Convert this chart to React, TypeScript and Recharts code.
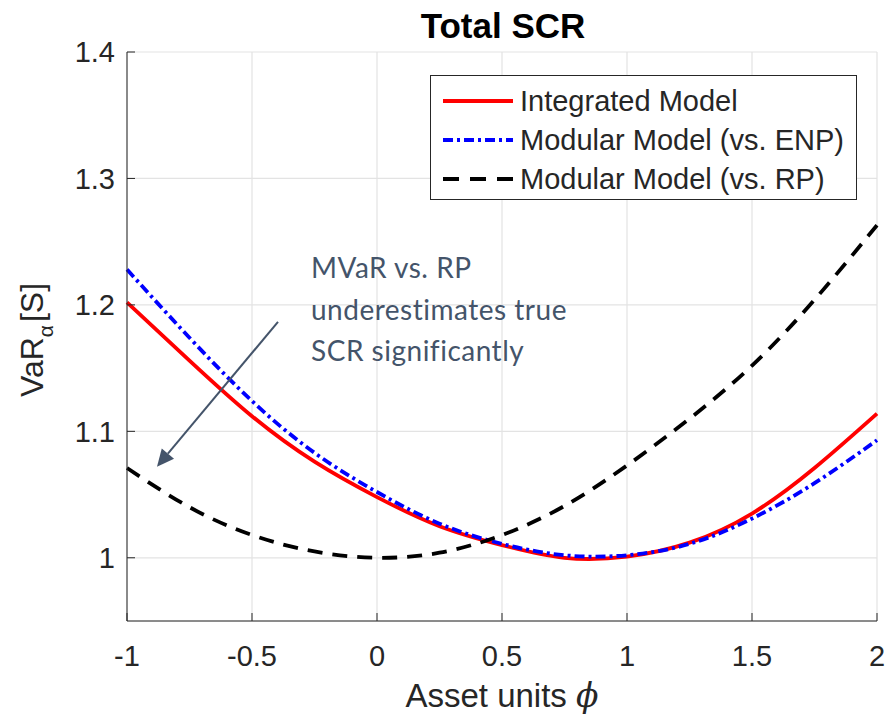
import React from "react";
import {
  LineChart,
  Line,
  XAxis,
  YAxis,
  CartesianGrid,
  ReferenceLine,
} from "recharts";

// asset units on the x axis
const phi = [-1, -0.75, -0.5, -0.25, 0, 0.25, 0.5, 0.75, 1, 1.25, 1.5, 1.75, 2];

// VaR of the total SCR for each model
const integrated = [1.202, 1.156, 1.112, 1.076, 1.048, 1.025, 1.01, 1.0, 1.001, 1.012, 1.035, 1.071, 1.114];
const modularEnp = [1.228, 1.174, 1.124, 1.083, 1.052, 1.027, 1.011, 1.002, 1.002, 1.011, 1.031, 1.059, 1.093];
const modularRp = [1.071, 1.04, 1.018, 1.005, 1.0, 1.004, 1.018, 1.041, 1.073, 1.11, 1.152, 1.204, 1.263];

const xTicks = [-1, -0.5, 0, 0.5, 1, 1.5, 2];
const yTicks = [1, 1.1, 1.2, 1.3, 1.4];

// annotation arrow, in data units (tail -> head)
const arrowTail = { x: -0.396, y: 1.1866 };
const arrowHead = { x: -0.88, y: 1.072 };
const noteLines = ["MVaR vs. RP", "underestimates true", "SCR significantly"];

const SERIES = [
  { key: "integrated", name: "Integrated Model", color: "#ff0000", dash: undefined as string | undefined },
  { key: "enp", name: "Modular Model (vs. ENP)", color: "#0000ff", dash: "10 4 3 4" },
  { key: "rp", name: "Modular Model (vs. RP)", color: "#000000", dash: "15 10" },
];

const rows = phi.map((x, i) => ({
  phi: x,
  integrated: integrated[i],
  enp: modularEnp[i],
  rp: modularRp[i],
}));

const FONT = "'Liberation Sans', Arial, Helvetica, sans-serif";
const INK = "#262626";
const NOTE = "#44546a";

const W = 886;
const H = 717;

function ArrowShape(props: any) {
  const { x1, y1, x2, y2 } = props;
  const ang = Math.atan2(y2 - y1, x2 - x1);
  const len = 17;
  const half = 8;
  const bx = x2 - len * Math.cos(ang);
  const by = y2 - len * Math.sin(ang);
  const px = -Math.sin(ang) * half;
  const py = Math.cos(ang) * half;
  return (
    <g>
      <line x1={x1} y1={y1} x2={bx} y2={by} stroke={NOTE} strokeWidth={2} />
      <polygon points={`${x2},${y2} ${bx + px},${by + py} ${bx - px},${by - py}`} fill={NOTE} />
    </g>
  );
}

function LegendBox() {
  return (
    <div
      style={{
        position: "absolute",
        left: 430,
        top: 75,
        width: 425,
        height: 123,
        border: `1.5px solid ${INK}`,
        background: "#fff",
      }}
    >
      <svg width={425} height={123}>
        {SERIES.map((s, i) => {
          const cy = 25 + i * 39;
          return (
            <g key={s.key}>
              <line
                x1={12}
                x2={82}
                y1={cy}
                y2={cy}
                stroke={s.color}
                strokeWidth={4}
                strokeDasharray={s.key === "rp" ? "16 11" : s.dash}
              />
              <text x={89} y={cy + 10} fontSize={29} fontFamily={FONT} fill={INK}>
                {s.name}
              </text>
            </g>
          );
        })}
      </svg>
    </div>
  );
}

export default function App() {
  const tickStyle = { fill: INK, fontSize: 29, fontFamily: FONT };
  return (
    <div style={{ position: "absolute", left: 0, top: 0, width: W, height: H, background: "#fff" }}>
      <LineChart
        width={W}
        height={H}
        data={rows}
        margin={{ top: 52, right: 9, bottom: 46, left: 57 }}
      >
        <CartesianGrid stroke="#e3e3e3" strokeWidth={1.2} />
        <XAxis
          dataKey="phi"
          type="number"
          domain={[-1, 2]}
          ticks={xTicks}
          height={50}
          stroke={INK}
          tickSize={-8}
          tickMargin={32}
          tick={tickStyle}
          interval={0}
        />
        <XAxis
          xAxisId="top"
          orientation="top"
          dataKey="phi"
          type="number"
          domain={[-1, 2]}
          ticks={xTicks}
          height={0}
          stroke={INK}
          tickSize={-8}
          tickFormatter={() => ""}
        />
        <YAxis
          type="number"
          domain={[0.95, 1.4]}
          ticks={yTicks}
          width={70}
          stroke={INK}
          tickSize={-8}
          tickMargin={20}
          tick={tickStyle}
          tickFormatter={(v: number) => String(v)}
          interval={0}
        />
        <YAxis
          yAxisId="right"
          orientation="right"
          type="number"
          domain={[0.95, 1.4]}
          ticks={yTicks}
          width={0}
          stroke={INK}
          tickSize={-8}
          tickFormatter={() => ""}
        />
        {SERIES.map((s) => (
          <Line
            key={s.key}
            dataKey={s.key}
            name={s.name}
            type="natural"
            stroke={s.color}
            strokeWidth={3.8}
            strokeDasharray={s.dash}
            dot={false}
            activeDot={false}
            isAnimationActive={false}
          />
        ))}
        <ReferenceLine segment={[arrowTail, arrowHead]} shape={ArrowShape} ifOverflow="visible" />
        <text x={503} y={38} textAnchor="middle" fontSize={35} fontWeight="bold" fontFamily={FONT} fill="#000">
          Total SCR
        </text>
        <text x={502} y={707} textAnchor="middle" fontSize={33} fontFamily={FONT} fill={INK}>
          Asset units{" "}
          <tspan fontStyle="italic" fontFamily="'DejaVu Serif', 'Liberation Serif', serif">
            {"\u03d5"}
          </tspan>
        </text>
        <text
          transform="translate(43, 340) rotate(-90)"
          textAnchor="middle"
          fontSize={32}
          fontFamily={FONT}
          fill={INK}
        >
          VaR
          <tspan fontSize={21} dy={10}>
            {"\u03b1"}
          </tspan>
          <tspan dy={-10} dx={3}>[S]</tspan>
        </text>
      </LineChart>
      <LegendBox />
      <div
        style={{
          position: "absolute",
          left: 311,
          top: 247,
          fontFamily: "Lato, 'Open Sans', sans-serif",
          fontSize: 28,
          letterSpacing: "0.5px",
          lineHeight: "41.5px",
          color: NOTE,
          whiteSpace: "nowrap",
        }}
      >
        {noteLines.map((l) => (
          <div key={l}>{l}</div>
        ))}
      </div>
    </div>
  );
}
